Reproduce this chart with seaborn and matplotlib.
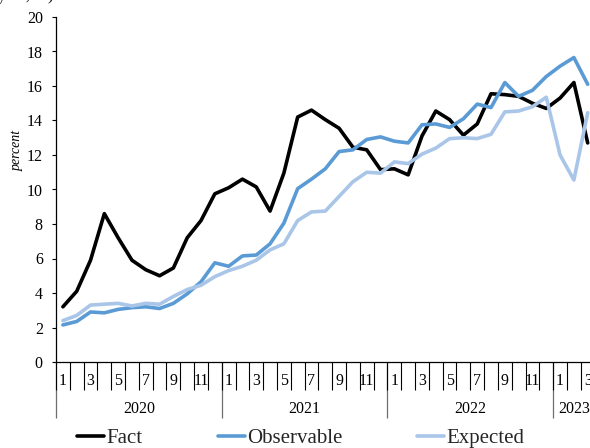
import numpy as np
import pandas as pd
import matplotlib
matplotlib.use("Agg")
import matplotlib.pyplot as plt
from matplotlib.lines import Line2D
import seaborn as sns

# Monthly periods, Jan 2020 - Mar 2023
years = [2020] * 12 + [2021] * 12 + [2022] * 12 + [2023] * 3
months = list(range(1, 13)) * 3 + [1, 2, 3]

fact = [3.2, 4.1, 5.9, 8.6, 7.2, 5.9, 5.35, 5.0, 5.45, 7.2, 8.2, 9.75,
        10.1, 10.6, 10.15, 8.75, 10.95, 14.2, 14.6, 14.05, 13.55, 12.45, 12.3, 11.15,
        11.2, 10.85, 13.1, 14.55, 14.05, 13.15, 13.8, 15.55, 15.5, 15.4, 15.0, 14.7,
        15.3, 16.2, 12.7]
observable = [2.15, 2.35, 2.9, 2.85, 3.05, 3.15, 3.2, 3.1, 3.4, 3.95, 4.65, 5.75,
              5.55, 6.15, 6.2, 6.85, 8.05, 10.05, 10.6, 11.2, 12.2, 12.3, 12.9, 13.05,
              12.8, 12.7, 13.75, 13.8, 13.6, 14.1, 14.95, 14.75, 16.2, 15.4, 15.75, 16.55,
              17.15, 17.65, 16.1]
expected = [2.4, 2.7, 3.3, 3.35, 3.4, 3.25, 3.4, 3.35, 3.8, 4.2, 4.45, 4.95,
            5.3, 5.55, 5.9, 6.5, 6.85, 8.2, 8.7, 8.75, 9.6, 10.45, 11.0, 10.95,
            11.6, 11.5, 12.05, 12.4, 12.95, 13.0, 12.95, 13.2, 14.5, 14.55, 14.8, 15.35,
            12.0, 10.55, 14.45]

series_names = ["Fact", "Observable", "Expected"]
series_colors = {"Fact": "#000000", "Observable": "#5B9BD5", "Expected": "#A9C5E8"}
year_labels = ["2020", "2021", "2022", "2023"]

idx = np.arange(len(years))
df = pd.concat([
    pd.DataFrame({"idx": idx, "value": vals, "series": name})
    for name, vals in zip(series_names, [fact, observable, expected])
])

sns.set_theme(style="white")
plt.rcParams["font.family"] = ["Liberation Serif", "DejaVu Serif"]

fig = plt.figure(figsize=(5.9, 4.48), dpi=100)
ax = fig.add_axes([56 / 590, 86 / 448, 538.6 / 590, 345 / 448])

sns.lineplot(data=df, x="idx", y="value", hue="series", hue_order=series_names,
             palette=series_colors, linewidth=2.6, legend=False, ax=ax)

n = len(years)
ax.set_xlim(-0.5, n - 0.5)
ax.set_ylim(0, 20)
ax.set_yticks(np.arange(0, 21, 2))
ax.tick_params(axis="y", which="major", left=True, length=3, width=0.8,
               color="black", labelsize=11.5, pad=6.5, labelcolor="black")

for side in ["top", "right"]:
    ax.spines[side].set_visible(False)
for side in ["left", "bottom"]:
    ax.spines[side].set_color("black")
    ax.spines[side].set_linewidth(0.9)

ax.set_xlabel("")
ax.set_ylabel("percent", fontsize=10, style="italic", color="black")
ax.yaxis.set_label_coords(-32 / 538.6, (362 - 150) / 345)

# month cells: dividers as major ticks, odd month numbers as minor labels
bounds = np.arange(-0.5, n, 1.0)
ax.set_xticks(bounds, labels=[""] * len(bounds))
ax.set_xticks(idx, labels=[str(m) if m % 2 == 1 else "" for m in months], minor=True)
ax.tick_params(axis="x", which="major", bottom=True, length=20, width=0.8,
               color="black", direction="out")
ax.tick_params(axis="x", which="minor", bottom=True, length=0, pad=8,
               labelsize=11.5, labelcolor="black")

# year groups on a second level
yrs = np.array(years)
year_start = [np.where(yrs == int(y))[0][0] - 0.5 for y in year_labels]
year_bounds = year_start + [n - 0.5]
year_centers = [(a + b) / 2 for a, b in zip(year_bounds[:-1], year_bounds[1:])]
sec = ax.secondary_xaxis("bottom")
sec.spines["bottom"].set_visible(False)
sec.set_xticks(year_bounds, labels=[""] * len(year_bounds))
sec.set_xticks(year_centers, labels=year_labels, minor=True)
sec.tick_params(which="major", length=40, width=0.9, color="#6f6f6f", direction="out")
sec.tick_params(which="minor", length=0, pad=28, labelsize=11.5, labelcolor="black")

handles = [Line2D([], [], color=series_colors[s], linewidth=2.6) for s in series_names]
fig.legend(handles, series_names, loc="center", bbox_to_anchor=(0.51, 0.021),
           ncol=3, frameon=False, fontsize=15, handlelength=1.3, handletextpad=0.1,
           columnspacing=3.6, borderaxespad=0)

fig.text(54 / 590, 1.0 + 0.5 / 448, "(year-on-year, %)", ha="right", va="baseline",
         fontsize=12, color="black")

fig.savefig("out.png", dpi=100)
